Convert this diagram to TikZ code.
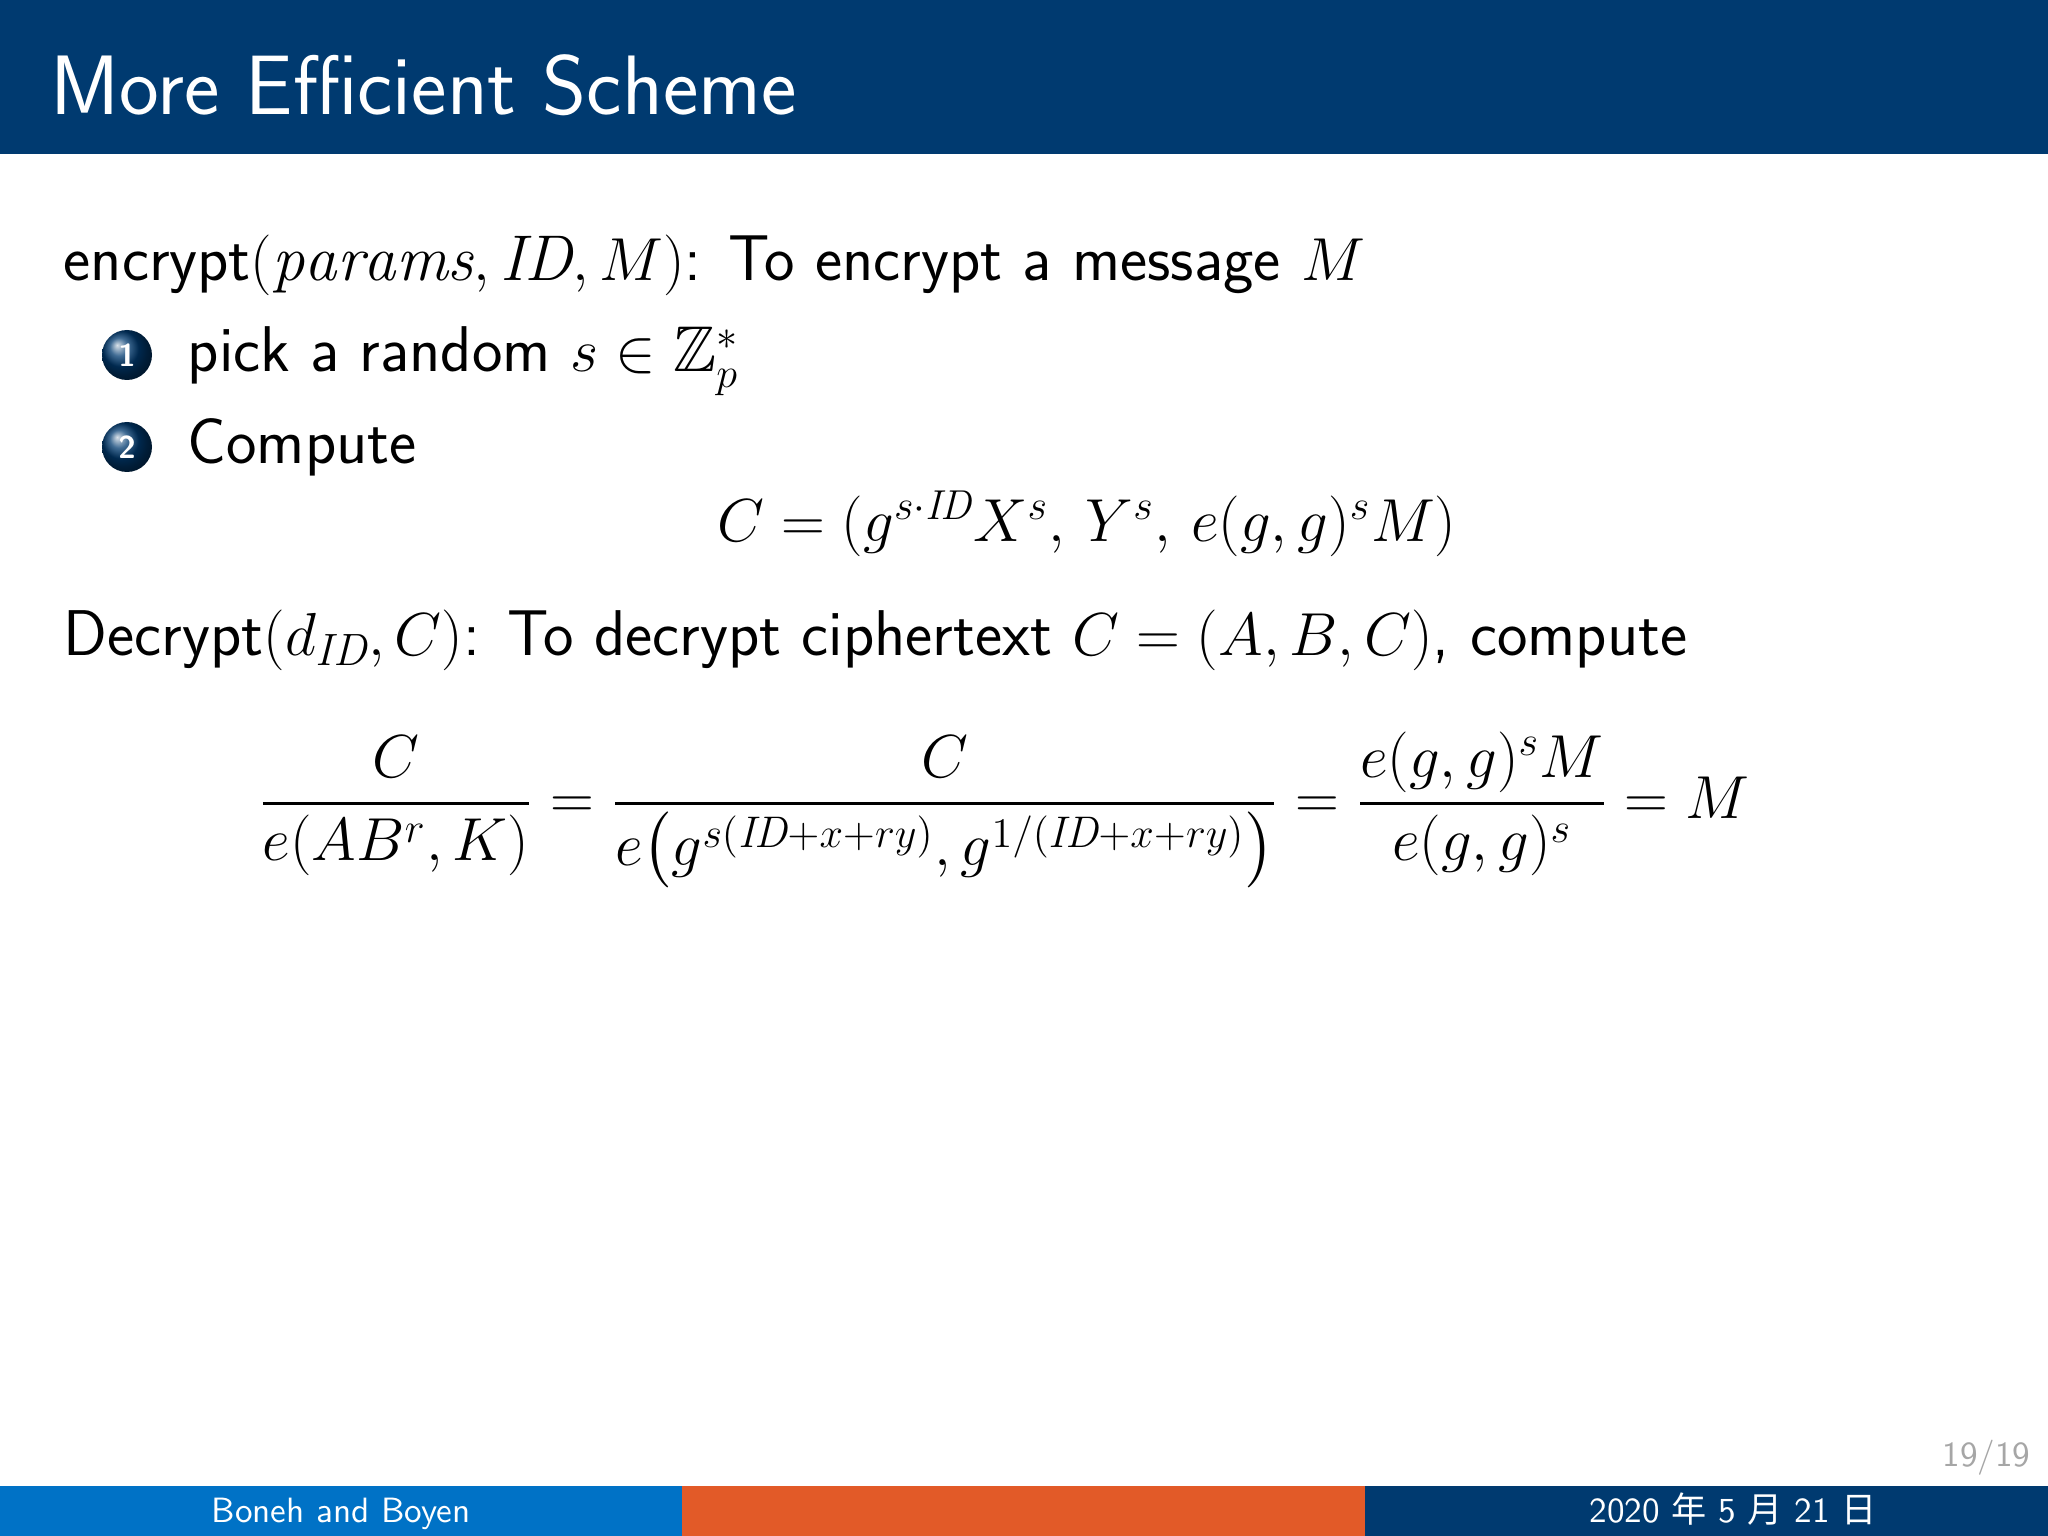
\documentclass[tikz,border=0pt]{standalone}
\usepackage{amsmath,amssymb}
\usepackage{fontspec}
\newfontfamily\cjk{Noto Sans CJK SC}
\definecolor{hdr}{RGB}{0,58,112}
\definecolor{fblue}{RGB}{0,114,198}
\definecolor{forange}{RGB}{226,90,40}
\usetikzlibrary{shadings}
\tikzset{body/.style={anchor=base west,inner sep=0pt,font=\fontsize{18.4}{22}\sffamily},
ball/.style={circle,inner sep=0pt,minimum size=0.5cm,ball color=hdr,text=white,font=\fontsize{9}{10}\sffamily\bfseries},
foot/.style={text=white,font=\fontsize{10}{12}\sffamily,anchor=base}}
\begin{document}
\begin{tikzpicture}
\useasboundingbox (0,0) rectangle (20.48,-15.36);
\fill[white] (0,0) rectangle (20.48,-15.36);
\fill[hdr] (0,0) rectangle (20.48,-1.54);
\node[anchor=base west,inner sep=0pt,text=white,font=\fontsize{24}{28}\sffamily] (title) at (0.5,-1.15) {More Efficient Scheme};
\node[body] (enc) at (0.63,-2.81) {encrypt$(\mathit{params}, \mathit{ID}, M)$: To encrypt a message $M$};
\node[ball] (b1) at (1.27,-3.55) {1};
\node[body] (i1) at (1.87,-3.72) {pick a random $s\in\mathbb{Z}_p^*$};
\node[ball] (b2) at (1.27,-4.47) {2};
\node[body] (i2) at (1.87,-4.64) {Compute};
\node[anchor=base,inner sep=0pt,font=\fontsize{17}{20}\selectfont] (cf) at (10.87,-5.42) {$C=(g^{s\cdot \mathit{ID}}X^s,\, Y^s,\, e(g,g)^sM)$};
\node[body] (dec) at (0.63,-6.56) {Decrypt$(d_{\mathit{ID}}, C)$: To decrypt ciphertext $C=(A,B,C)$, compute};
\node[anchor=west,inner sep=0pt,font=\fontsize{18}{21}\selectfont] (eq) at (2.58,-8.10) {$\displaystyle \frac{C}{e(AB^r,K)}=\frac{C}{e\big(g^{s(\mathit{ID}+x+ry)},g^{1/(\mathit{ID}+x+ry)}\big)}=\frac{e(g,g)^sM}{e(g,g)^s}=M$};
\node[anchor=base east,inner sep=0pt,text=gray!70,font=\fontsize{10}{12}\sffamily] (pg) at (20.31,-14.66) {19/19};
\fill[fblue] (0,-14.86) rectangle (6.82,-15.36);
\fill[forange] (6.82,-14.86) rectangle (13.65,-15.36);
\fill[hdr] (13.65,-14.86) rectangle (20.48,-15.36);
\node[foot] (auth) at (3.41,-15.22) {Boneh and Boyen};
\node[foot] (date) at (17.33,-15.22) {2020 {\cjk 年} 5 {\cjk 月} 21 {\cjk 日}};
\end{tikzpicture}
\end{document}
